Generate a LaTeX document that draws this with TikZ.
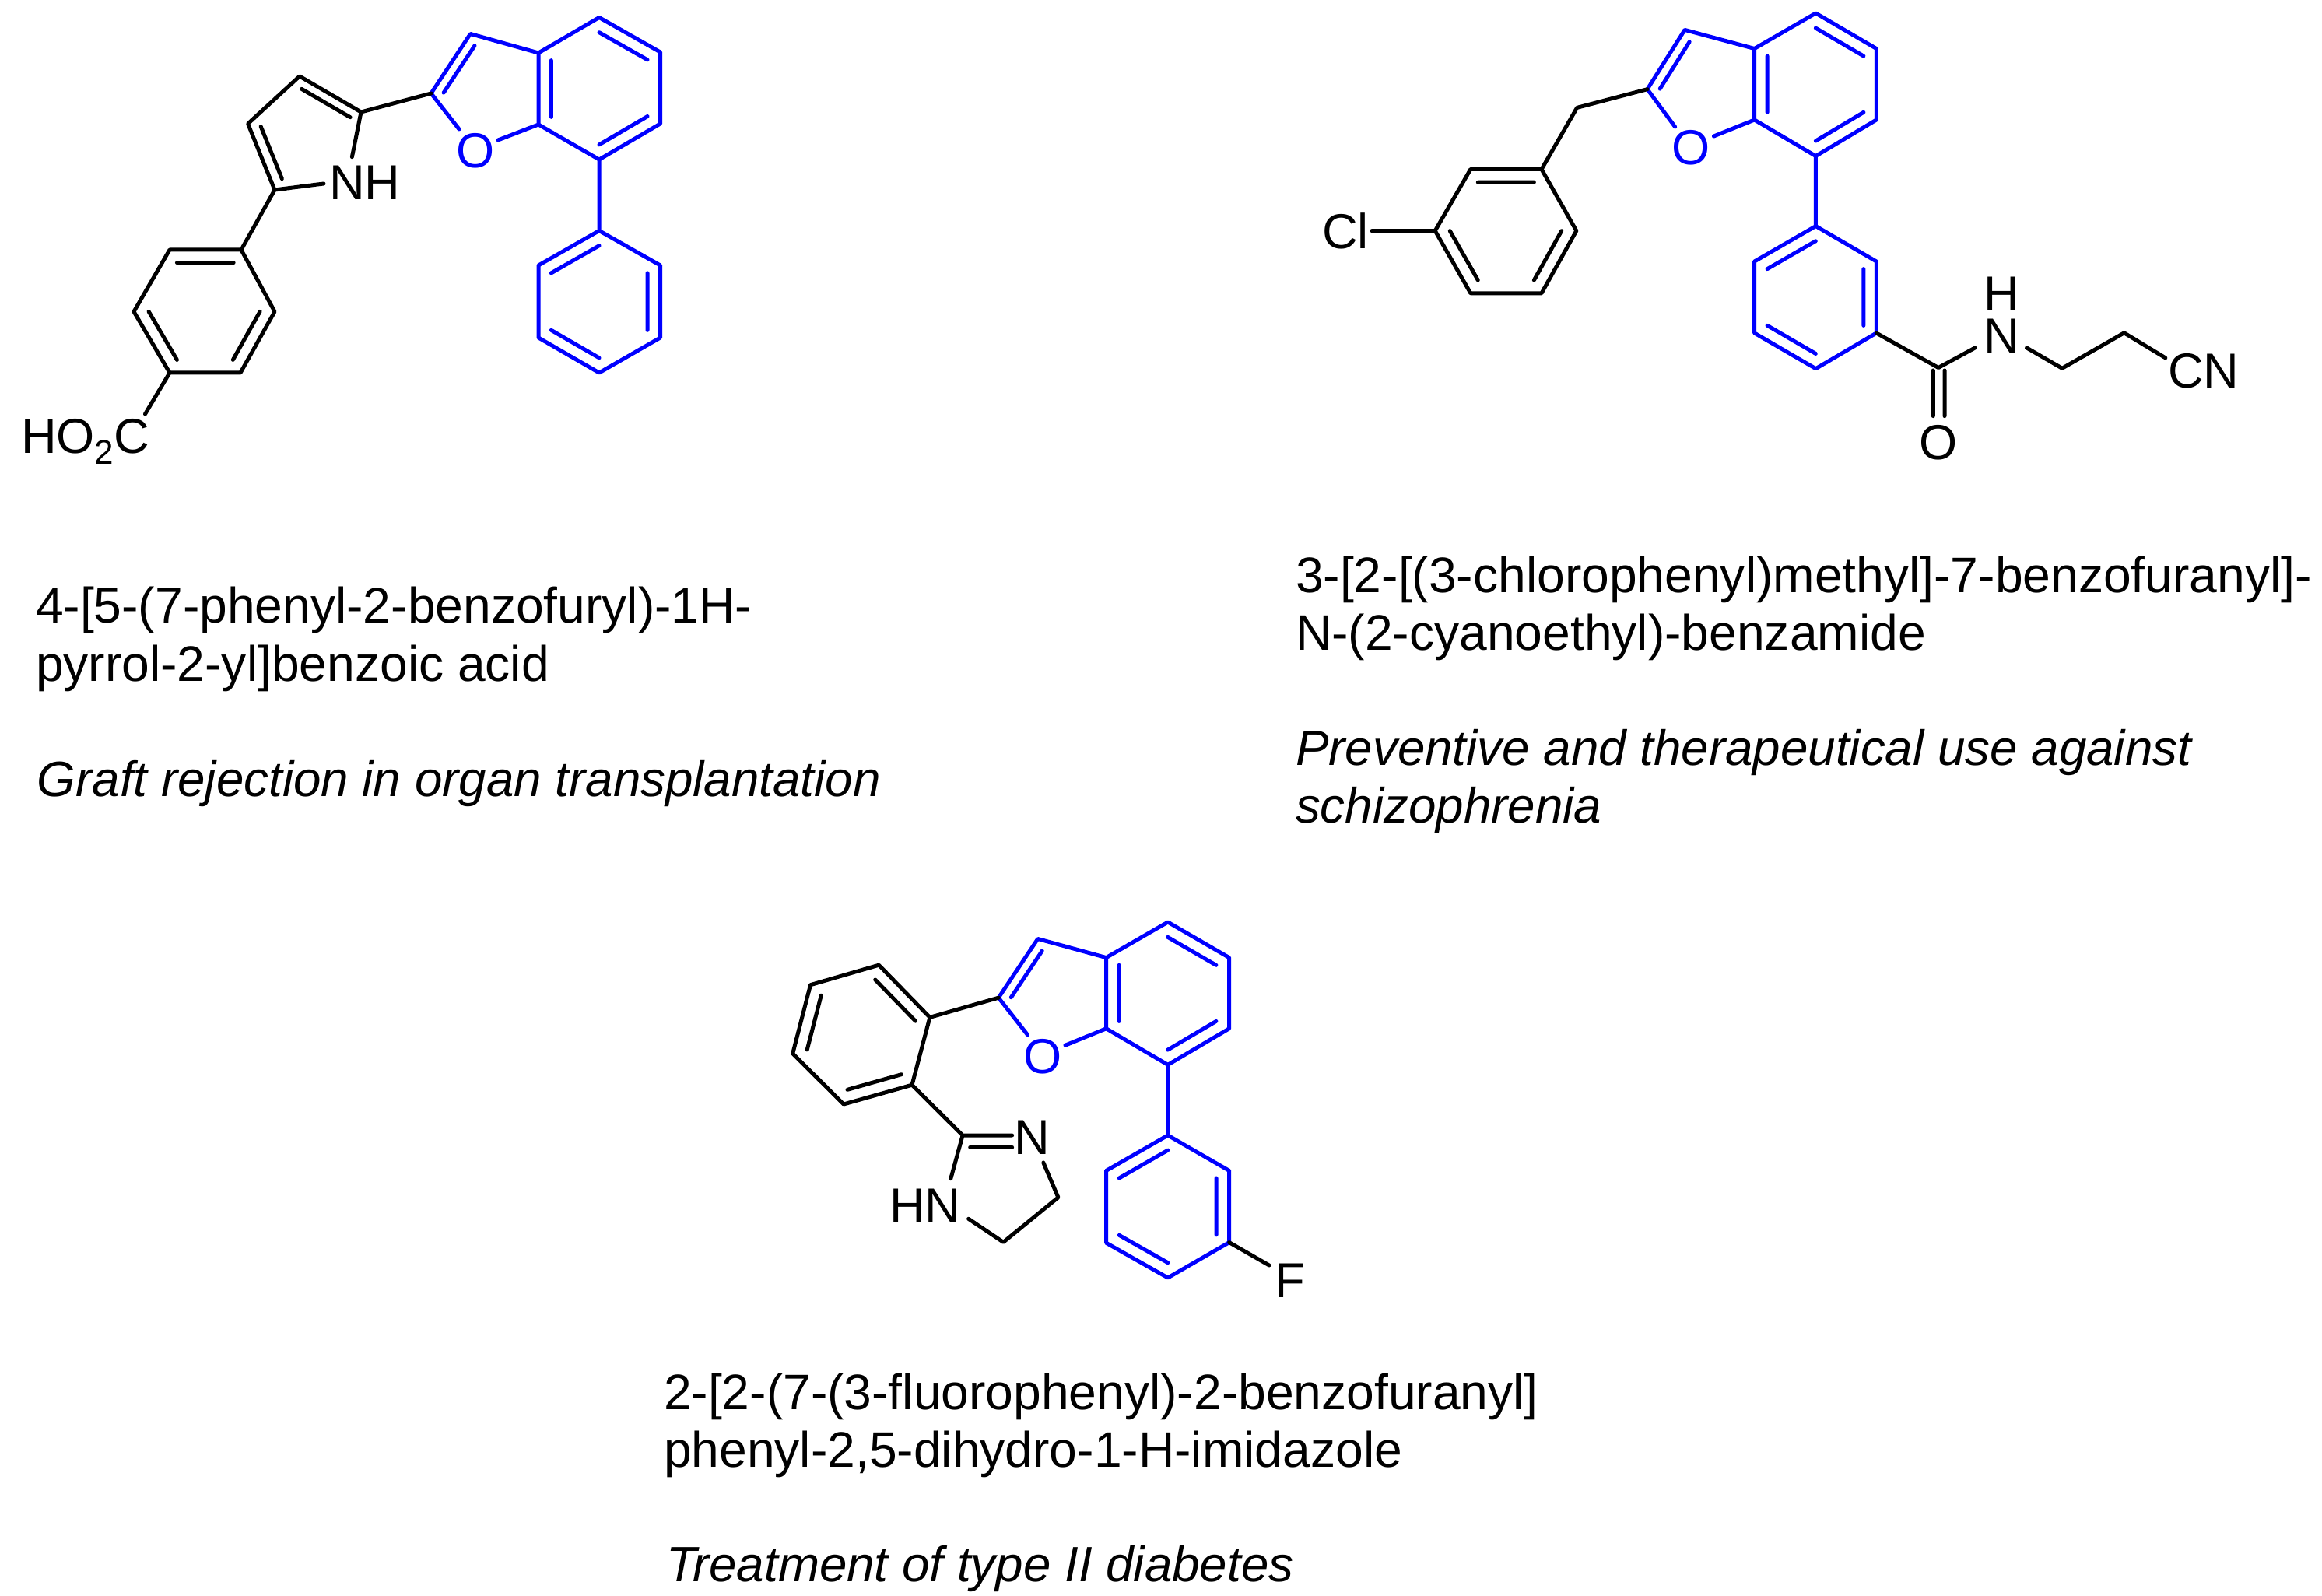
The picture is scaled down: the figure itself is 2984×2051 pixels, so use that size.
\documentclass[tikz,border=0pt]{standalone}
\usepackage{fontspec}
\setmainfont{Liberation Sans}
\usetikzlibrary{calc}
\definecolor{molblue}{RGB}{0,0,255}
\tikzset{
  x=0.25pt,y=-0.25pt,
  bond/.style={line width=1.25pt,line cap=round,line join=round},
  atom/.style={inner sep=0pt,outer sep=0pt,font=\fontsize{15.8}{15.8}\selectfont},
  caption/.style={inner sep=0pt,outer sep=0pt,anchor=base west,font=\fontsize{16.05}{16.05}\selectfont},
  captionit/.style={inner sep=0pt,outer sep=0pt,anchor=base west,font=\fontsize{15.93}{15.93}\selectfont\itshape},
}
\newcommand{\dbl}[3]{($(#1)!.21!(#3)$) -- ($(#2)!.21!(#3)$)}
\newcommand{\cpts}[1]{\foreach \n/\x/\y in {#1}{\coordinate (\n) at (\x,\y);}}
\begin{document}
\begin{tikzpicture}
\useasboundingbox (0,0) rectangle (2984,2051);
% ---------- molecule 1
\cpts{a3/604.5/43.5,a3a/692/68,a4/770/22.5,a5/848.5/67,a6/848.5/159,a7/770/205,a7a/692/160,a2/554/120,
aOa/590/166,aOb/640/180,aO/611/194,acF/630.7/116,acB/770/114,
ap1/770/296.5,ap2/692/341,ap3/692/434,ap4/770/479,ap5/848.5/434,ap6/848.5/341,acP/770/388,
aq5/464/144,aq4/385/98,aq3/318.6/159,aq2/353/244,aNa/452.4/201.7,aNb/416/236,acQ/397.7/176,
ab1/310/321,ab2/218/321,ab3/172/400.5,ab4/218/479,ab5/309/479,ab6/353/400.5,acC/263/400,aAc/186.5/532}
\node[atom,molblue] (aOt) at (aO) {O};
\node[atom,anchor=base west] (aNH) at (423,257) {NH};
\node[atom,anchor=base west] (aHO) at (27,583) {HO\raisebox{-3.3pt}{\fontsize{11}{11}\selectfont 2}C};
\draw[bond,molblue] (aOa) -- (a2) -- (a3) -- (a3a) -- (a4) -- (a5) -- (a6) -- (a7) -- (a7a) -- (a3a) (a7a) -- (aOb)
  (a7) -- (ap1) -- (ap2) -- (ap3) -- (ap4) -- (ap5) -- (ap6) -- (ap1)
  \dbl{a3}{a2}{acF} \dbl{a3a}{a7a}{acB} \dbl{a4}{a5}{acB} \dbl{a6}{a7}{acB}
  \dbl{ap1}{ap2}{acP} \dbl{ap3}{ap4}{acP} \dbl{ap5}{ap6}{acP};
\draw[bond] (a2) -- (aq5) -- (aq4) -- (aq3) -- (aq2) -- (aNb) (aq5) -- (aNa) (aq2) -- (ab1) -- (ab2) -- (ab3) -- (ab4) -- (ab5) -- (ab6) -- (ab1) (ab4) -- (aAc)
  \dbl{aq5}{aq4}{acQ} \dbl{aq3}{aq2}{acQ} \dbl{ab1}{ab2}{acC} \dbl{ab3}{ab4}{acC} \dbl{ab5}{ab6}{acC};
% ---------- molecule 2
\cpts{b3/2165/38.4,b3a/2254.6/62.5,b4/2333.4/17,b5/2411.3/62.5,b6/2411.3/154,b7/2333.4/200.5,b7a/2254.6/154,b2/2117/114.7,
bOa/2152.6/163,bOb/2202.4/175,bO/2173.4/190,bcF/2194/112,bcB/2333/108,bCH/2026.6/138.4,
bb1/1981/217.5,bb2/1889.8/217.5,bb3/1844.2/296.6,bb4/1889.8/376.8,bb5/1981/376.8,bb6/2025.8/296.6,bcC/1935/297,bCl/1763/296.6,
bp1/2333.4/290.6,bp2/2254.6/336,bp3/2254.6/428,bp4/2333.4/473.7,bp5/2411.3/428,bp6/2411.3/336,bcP/2333/382,
bCO/2491/472.5,bNa/2538/447,bNb/2604.5/447,bc1/2650/473.3,bc2/2729.7/427.8,bCN/2782.8/459.9,
bOla/2484.3/476,bOlb/2484.3/534.6,bOra/2499/476,bOrb/2499/534.6}
\node[atom,molblue] (bOt) at (bO) {O};
\node[atom,anchor=base west] (bClt) at (1699,320) {Cl};
\node[atom,anchor=base] (bNt) at (2572,453.5) {N};
\node[atom,anchor=base] (bHt) at (2572,399.4) {H};
\node[atom,anchor=base west] (bCNt) at (2786,499) {CN};
\node[atom,anchor=base] (bOxt) at (2491,591) {O};
\draw[bond,molblue] (bOa) -- (b2) -- (b3) -- (b3a) -- (b4) -- (b5) -- (b6) -- (b7) -- (b7a) -- (b3a) (b7a) -- (bOb)
  (b7) -- (bp1) -- (bp2) -- (bp3) -- (bp4) -- (bp5) -- (bp6) -- (bp1)
  \dbl{b3}{b2}{bcF} \dbl{b3a}{b7a}{bcB} \dbl{b4}{b5}{bcB} \dbl{b6}{b7}{bcB}
  \dbl{bp1}{bp2}{bcP} \dbl{bp3}{bp4}{bcP} \dbl{bp5}{bp6}{bcP};
\draw[bond] (b2) -- (bCH) -- (bb1) -- (bb2) -- (bb3) -- (bb4) -- (bb5) -- (bb6) -- (bb1) (bb3) -- (bCl)
  \dbl{bb1}{bb2}{bcC} \dbl{bb3}{bb4}{bcC} \dbl{bb5}{bb6}{bcC}
  (bp5) -- (bCO) -- (bNa) (bNb) -- (bc1) -- (bc2) -- (bCN) (bOla) -- (bOlb) (bOra) -- (bOrb);
% ---------- molecule 3
\cpts{c3/1333.7/1206.5,c3a/1421.6/1230.6,c4/1500.8/1185,c5/1579.6/1230.6,c6/1579.6/1321.8,c7/1500.8/1368.3,c7a/1421.6/1321.8,c2/1283.2/1282.2,
cOa/1320.5/1329.8,cOb/1369/1343.2,cO/1340/1357.3,ccF/1360/1280,ccB/1500/1277,
cp1/1500.8/1459,cp2/1421.6/1504.4,cp3/1421.6/1597.3,cp4/1500.8/1642,cp5/1579.6/1596.6,cp6/1579.6/1504.4,ccP/1500.8/1550,cFb/1631/1626,
cb1/1194.9/1307.4,cb2/1129.4/1240.2,cb3/1041.5/1265.7,cb4/1018.7/1353.9,cb5/1084.2/1419,cb6/1172/1394.2,ccC/1107/1330,
cim/1237.1/1459,cimA/1300.6/1459,cimB/1246.7/1474.4,cimC/1300.6/1474.4,cHNb/1221.8/1514.7,cNb/1340.8/1494,cch1/1359.9/1538.8,cch2/1289.4/1596.3,cHNa/1244.6/1566.3}
\node[atom,molblue] (cOt) at (cO) {O};
\node[atom,anchor=base west] (cFt) at (1638,1667) {F};
\node[atom,anchor=base] (cNt) at (1326.7,1483) {N};
\node[atom,anchor=base west] (cHN) at (1143,1571) {HN};
\draw[bond,molblue] (cOa) -- (c2) -- (c3) -- (c3a) -- (c4) -- (c5) -- (c6) -- (c7) -- (c7a) -- (c3a) (c7a) -- (cOb)
  (c7) -- (cp1) -- (cp2) -- (cp3) -- (cp4) -- (cp5) -- (cp6) -- (cp1)
  \dbl{c3}{c2}{ccF} \dbl{c3a}{c7a}{ccB} \dbl{c4}{c5}{ccB} \dbl{c6}{c7}{ccB}
  \dbl{cp1}{cp2}{ccP} \dbl{cp3}{cp4}{ccP} \dbl{cp5}{cp6}{ccP};
\draw[bond] (c2) -- (cb1) -- (cb2) -- (cb3) -- (cb4) -- (cb5) -- (cb6) -- (cb1) (cb6) -- (cim) -- (cHNb) (cim) -- (cimA) (cimB) -- (cimC)
  (cNb) -- (cch1) -- (cch2) -- (cHNa) (cp5) -- (cFb)
  \dbl{cb1}{cb2}{ccC} \dbl{cb3}{cb4}{ccC} \dbl{cb5}{cb6}{ccC};
% ---------- captions
\node[caption] (t1) at (46,801) {4-[5-(7-phenyl-2-benzofuryl)-1H-};
\node[caption] (t2) at (46,875) {pyrrol-2-yl]benzoic acid};
\node[captionit] (t3) at (48,1023) {Graft rejection in organ transplantation};
\node[caption] (t4) at (1665,762) {3-[2-[(3-chlorophenyl)methyl]-7-benzofuranyl]-};
\node[caption] (t5) at (1665,836) {N-(2-cyanoethyl)-benzamide};
\node[captionit] (t6) at (1665,983) {Preventive and therapeutical use against};
\node[captionit] (t7) at (1665,1057) {schizophrenia};
\node[caption] (t8) at (853,1811) {2-[2-(7-(3-fluorophenyl)-2-benzofuranyl]};
\node[caption] (t9) at (853,1885) {phenyl-2,5-dihydro-1-H-imidazole};
\node[captionit] (t10) at (856,2032) {Treatment of type II diabetes};
\end{tikzpicture}
\end{document}
